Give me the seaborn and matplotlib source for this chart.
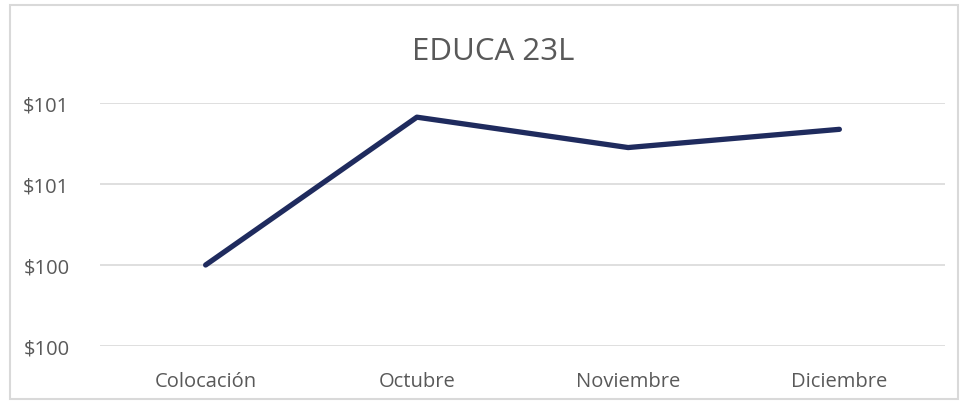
import matplotlib
matplotlib.use('Agg')
import matplotlib.pyplot as plt
import matplotlib.ticker as mticker
from matplotlib.patches import Rectangle
import pandas as pd
import seaborn as sns

categories = ['Colocación', 'Octubre', 'Noviembre', 'Diciembre']
values = [100.40, 100.765, 100.69, 100.735]
y_ticks = [100.2, 100.4, 100.6, 100.8]

sns.set_theme(style='white')
plt.rcParams['font.family'] = ['Open Sans', 'DejaVu Sans']

df = pd.DataFrame({'cat': categories, 'val': values})

fig = plt.figure(figsize=(9.62, 4.06), dpi=100)
fig.patch.set_facecolor('white')
ax = fig.add_axes([100 / 962, 1 - 347 / 406, 845 / 962, (347 - 104) / 406])

sns.lineplot(data=df, x='cat', y='val', ax=ax, color='#1f2b5e', linewidth=3.8, sort=False)

ax.set_xlim(-0.5, 3.5)
ax.set_ylim(y_ticks[0], y_ticks[-1])
ax.set_yticks(y_ticks)
ax.yaxis.set_major_formatter(mticker.FuncFormatter(lambda v, p: '${:.0f}'.format(v)))
ax.grid(axis='y', color='#d9d9d9', linewidth=1.2)
ax.set_axisbelow(True)
for s in ax.spines.values():
    s.set_visible(False)
ax.tick_params(axis='both', length=0, labelsize=14.5, labelcolor='#595959')
ax.tick_params(axis='x', pad=18)
ax.tick_params(axis='y', pad=22)
ax.set_xlabel('')
ax.set_ylabel('')

# title sits a little right of the figure centre in the original
fig.text(493 / 962, 1 - 52 / 406, 'EDUCA 23L', ha='center', va='center', fontsize=22.5, color='#595959')

fig.patches.append(Rectangle((10 / 962, 1 - 400 / 406), 948 / 962, 394 / 406,
                             transform=fig.transFigure, fill=False, edgecolor='#d9d9d9', linewidth=1.5))

fig.savefig('out.png', dpi=100)
